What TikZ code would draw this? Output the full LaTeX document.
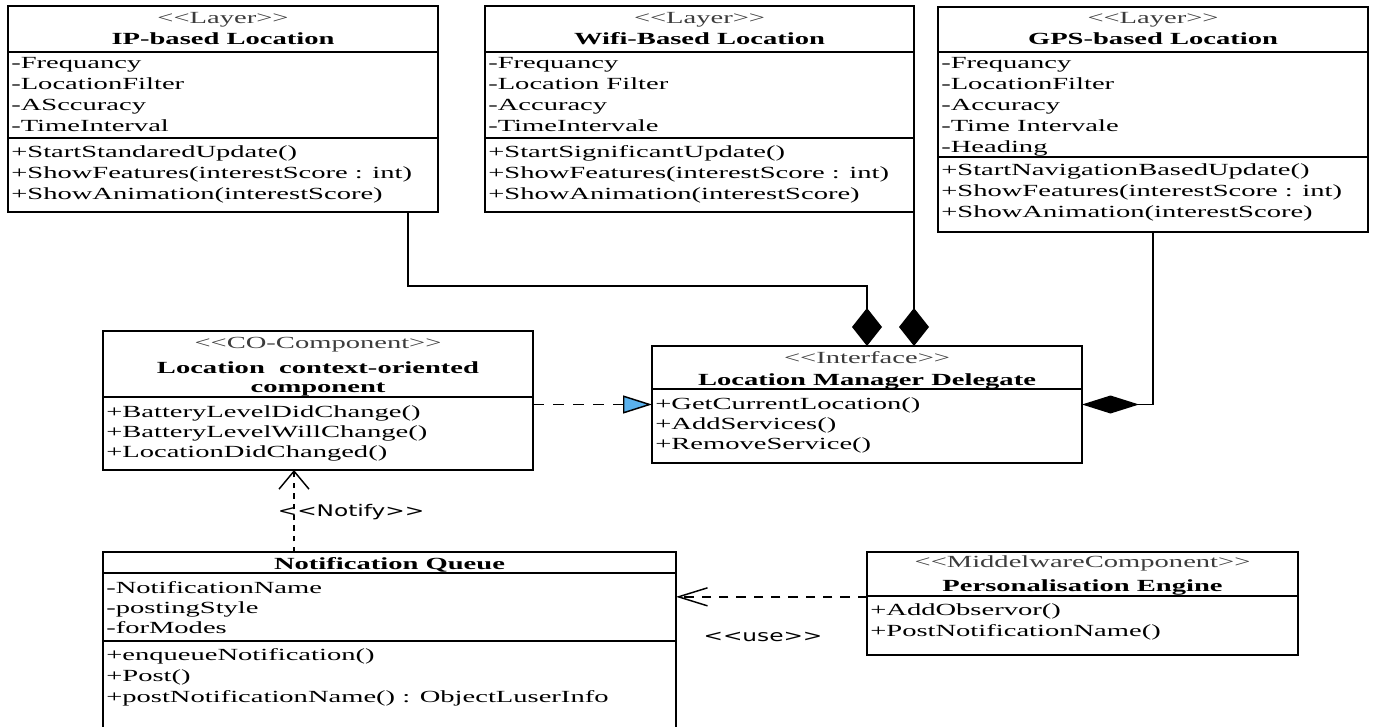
\documentclass[tikz,border=0pt]{standalone}
\usepackage{fontspec}
\usepackage{xcolor}
\usepackage{tikz}
\usetikzlibrary{arrows.meta}
\newfontfamily\umlfont{Liberation Serif}[FakeStretch=1.68]
\newfontfamily\tagfont{DejaVu Sans}[FakeStretch=1.45]
\definecolor{realblue}{RGB}{90,178,238}
\definecolor{stgray}{RGB}{60,60,60}
\newcommand{\guil}[1]{<\kern0pt<#1>\kern0pt>}

\begin{document}
\begin{tikzpicture}[x=0.75pt,y=0.75pt,yscale=-1,xscale=1,
  classbox/.style 2 args={draw, line width=1.4pt, inner sep=0pt, outer sep=0pt, minimum width=#1*0.75pt, minimum height=#2*0.75pt},
  divider/.style={line width=1pt},
  member/.style={anchor=base west, inner sep=0pt, font=\umlfont\fontsize{12.75}{15}\selectfont},
  stereo/.style={anchor=base, inner sep=0pt, text=stgray, font=\umlfont\fontsize{12.75}{15}\selectfont},
  classtitle/.style={anchor=base, inner sep=0pt, font=\umlfont\bfseries\fontsize{12.75}{15}\selectfont},
  connlabel/.style={inner sep=0pt, font=\tagfont\fontsize{12}{14}\selectfont},
  compV/.style={line width=1.4pt, -{Diamond[length=28.5pt,width=22.5pt]}},
  compH/.style={line width=1.4pt, -{Diamond[length=42.75pt,width=13.5pt]}},
  realize/.style={line width=1.1pt, dash pattern=on 8pt off 7pt, -{Triangle[length=21.75pt,width=13.5pt,fill=realblue]}},
  notifydep/.style={line width=1.1pt, dash pattern=on 4pt off 4pt, -{Straight Barb[length=13.5pt,width=22.5pt]}},
  usedep/.style={line width=1.1pt, dash pattern=on 7pt off 6pt, -{Straight Barb[length=21.75pt,width=13.5pt]}}
]
\useasboundingbox (0,0) rectangle (1374,727);

%Class boxes
\node[classbox={430}{206}] (ip) at (223,109) {};
\node[classbox={429}{206}] (wifi) at (699.5,109) {};
\node[classbox={430}{225}] (gps) at (1153,119.5) {};
\node[classbox={430}{139}] (co) at (318,400.5) {};
\node[classbox={430}{117}] (lmd) at (867,404.5) {};
\node[classbox={573}{193}] (nq) at (389.5,648.5) {};
\node[classbox={431}{103}] (pe) at (1082.5,603.5) {};

%Compartment lines
\draw[divider] (ip.west |- 0,52) -- (ip.east |- 0,52);
\draw[divider] (ip.west |- 0,138) -- (ip.east |- 0,138);
\draw[divider] (wifi.west |- 0,52) -- (wifi.east |- 0,52);
\draw[divider] (wifi.west |- 0,138) -- (wifi.east |- 0,138);
\draw[divider] (gps.west |- 0,52) -- (gps.east |- 0,52);
\draw[divider] (gps.west |- 0,157) -- (gps.east |- 0,157);
\draw[divider] (co.west |- 0,397) -- (co.east |- 0,397);
\draw[divider] (lmd.west |- 0,389) -- (lmd.east |- 0,389);
\draw[divider] (nq.west |- 0,573) -- (nq.east |- 0,573);
\draw[divider] (nq.west |- 0,641) -- (nq.east |- 0,641);
\draw[divider] (pe.west |- 0,596) -- (pe.east |- 0,596);

% Text Node
\node[stereo] (ipst) at (223,24) {\guil{Layer}};
\node[classtitle] (ipname) at (223,45) {IP-based Location};
\foreach \txt [count=\i] in {-Frequancy,-LocationFilter,-ASccuracy,-TimeInterval}
  \node[member] (ipattr\i) at (11,{48+21*\i}) {\txt};
\foreach \txt [count=\i] in {+StartStandaredUpdate(),+ShowFeatures(interestScore : int),+ShowAnimation(interestScore)}
  \node[member] (ipop\i) at (11,{137+21*\i}) {\txt};

% Text Node
\node[stereo] (wifist) at (699.5,24) {\guil{Layer}};
\node[classtitle] (wifiname) at (699.5,45) {Wifi-Based Location};
\foreach \txt [count=\i] in {-Frequancy,-Location Filter,-Accuracy,-TimeIntervale}
  \node[member] (wifiattr\i) at (488,{48+21*\i}) {\txt};
\foreach \txt [count=\i] in {+StartSignificantUpdate(),+ShowFeatures(interestScore : int),+ShowAnimation(interestScore)}
  \node[member] (wifiop\i) at (488,{137+21*\i}) {\txt};

% Text Node
\node[stereo] (gpsst) at (1153,24) {\guil{Layer}};
\node[classtitle] (gpsname) at (1153,45) {GPS-based Location};
\foreach \txt [count=\i] in {-Frequancy,-LocationFilter,-Accuracy,-Time Intervale,-Heading}
  \node[member] (gpsattr\i) at (941,{48+21*\i}) {\txt};
\foreach \txt [count=\i] in {+StartNavigationBasedUpdate(),+ShowFeatures(interestScore : int),+ShowAnimation(interestScore)}
  \node[member] (gpsop\i) at (941,{155+21*\i}) {\txt};

% Text Node
\node[stereo] (cost) at (318,349) {\guil{CO-Component}};
\node[classtitle] (coname) at (318,373) {Location~ context-oriented};
\node[classtitle] (coname2) at (318,392) {component};
\foreach \txt [count=\i] in {+BatteryLevelDidChange(),+BatteryLevelWillChange(),+LocationDidChanged()}
  \node[member] (coop\i) at (106,{397+20*\i}) {\txt};

% Text Node
\node[stereo] (lmdst) at (867,363) {\guil{Interface}};
\node[classtitle] (lmdname) at (867,385) {Location Manager Delegate};
\foreach \txt [count=\i] in {+GetCurrentLocation(),+AddServices(),+RemoveService()}
  \node[member] (lmdop\i) at (655,{389+20*\i}) {\txt};

% Text Node
\node[classtitle] (nqname) at (389.5,569) {Notification Queue};
\foreach \txt [count=\i] in {-NotificationName,-postingStyle,-forModes}
  \node[member] (nqattr\i) at (106,{573+20*\i}) {\txt};
\foreach \txt [count=\i] in {+enqueueNotification(),+Post(),+postNotificationName() : ObjectLuserInfo}
  \node[member] (nqop\i) at (106,{639+21*\i}) {\txt};

% Text Node
\node[stereo] (pest) at (1082.5,567) {\guil{MiddelwareComponent}};
\node[classtitle] (pename) at (1082.5,591) {Personalisation Engine};
\foreach \txt [count=\i] in {+AddObservor(),+PostNotificationName()}
  \node[member] (peop\i) at (870,{594+21*\i}) {\txt};

%Connectors
\draw[compV] ([xshift=-22.5pt]ip.south east) -- ++(0,74) -| (lmd.north);
\draw[compV] (wifi.south east) -- (wifi.south east |- lmd.north);
\draw[compH] (gps.south) |- (lmd.east);
\draw[realize] (co.east |- lmd.west) -- (lmd.west);
\draw[notifydep] ([xshift=-18pt]co.south |- nq.north) -- ([xshift=-18pt]co.south);
\draw[usedep] ([yshift=-5pt]pe.west) -- ([yshift=-5pt]pe.west -| nq.east);

% Text Node
\node[connlabel] (notifylbl) at (351,512) {\guil{Notify}};
\node[connlabel] (uselbl) at (763,637) {\guil{use}};

\end{tikzpicture}
\end{document}
